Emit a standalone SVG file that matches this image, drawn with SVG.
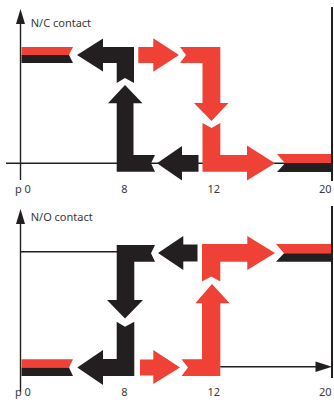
<svg xmlns="http://www.w3.org/2000/svg" width="334" height="402" viewBox="0 0 334 402">
<style>
.k{fill:#231f20}
.r{fill:#ef4136}
.ax{stroke:#231f20;stroke-width:1.4;fill:none}
.edge{stroke:#231f20;stroke-width:2;fill:none}
.t{font-family:"Noto Sans","Liberation Sans",sans-serif;font-size:11px;fill:#3a3a3a}
</style>
<rect width="334" height="402" fill="#ffffff"/>
<g id="nc-panel">
  <g id="nc-axes">
    <line class="ax" x1="20.5" y1="22" x2="20.5" y2="180"/>
    <polygon class="k" points="20.5,9 16,24 25,24"/>
    <line class="ax" x1="6" y1="163.3" x2="332" y2="163.3"/>
    <line class="edge" x1="332" y1="7" x2="332" y2="181"/>
    <text class="t" x="30.7" y="27">N/C contact</text>
    <text class="t" x="15" y="193">p 0</text>
    <text class="t" x="124.5" y="193" text-anchor="middle">8</text>
    <text class="t" x="213.7" y="193" text-anchor="middle">12</text>
    <text class="t" x="319" y="193">20</text>
  </g>
  <g id="nc-bar-left">
    <polygon class="r" points="21.5,47 73,47 69,55 21.5,55"/>
    <polygon class="k" points="21.5,55 69,55 73,63 21.5,63"/>
  </g>
  <g id="nc-bar-right">
    <polygon class="r" points="277,154 331,154 331,163.3 285,163.3"/>
    <polygon class="k" points="285,163.3 331,163.3 331,172 277,172"/>
  </g>
  <g id="nc-black-path">
    <polygon class="k" points="157,163.3 182,146 182,155 198.5,155 198.5,171.7 182,171.7 182,180.5"/>
    <polygon class="k" points="125,85 142.5,103.3 133.5,103.3 133.5,155 155,155 151,163.3 155,171.7 116.7,171.7 116.7,103.3 108,103.3"/>
    <polygon class="k" points="77,55 103,38.5 103,47 134,47 134,83 125,78 116.7,83 116.7,63 103,63 103,71.5"/>
  </g>
  <g id="nc-red-path">
    <polygon class="r" points="138.3,47 153.3,47 153.3,38.3 179,55 153.3,71.7 153.3,63 138.3,63"/>
    <polygon class="r" points="180,47 220.3,47 220.3,103 228.5,103 211.5,121 194,103 202.5,103 202.5,63 180,63 186,55"/>
    <polygon class="r" points="202.5,123 211.5,128 220.3,123 220.3,155 247,155 247,145.5 275,163.3 247,180.5 247,171.7 202.5,171.7"/>
  </g>
</g>
<g id="no-panel">
  <g id="no-axes">
    <line class="ax" x1="20.5" y1="222" x2="20.5" y2="391.7"/>
    <polygon class="k" points="20.5,209 16,224 25,224"/>
    <line class="ax" x1="20.5" y1="251.7" x2="117" y2="251.7"/>
    <line class="edge" x1="332" y1="206" x2="332" y2="378"/>
    <text class="t" x="30.7" y="220.5">N/O contact</text>
    <text class="t" x="15" y="396">p 0</text>
    <text class="t" x="124.5" y="396" text-anchor="middle">8</text>
    <text class="t" x="213.7" y="396" text-anchor="middle">12</text>
    <text class="t" x="319" y="396">20</text>
  </g>
  <g id="no-bar-left">
    <polygon class="r" points="21.5,359.3 73,359.3 69,367.5 21.5,367.5"/>
    <polygon class="k" points="21.5,367.5 69,367.5 73,376 21.5,376"/>
  </g>
  <g id="no-bar-right">
    <polygon class="r" points="276,244 331,244 331,253.3 284,253.3"/>
    <polygon class="k" points="284,253.3 331,253.3 331,261.7 276,261.7"/>
  </g>
  <g id="no-black-path">
    <polygon class="k" points="158,253 183.3,236 183.3,244.5 197.5,244.5 197.5,261.5 183.3,261.5 183.3,270"/>
    <polygon class="k" points="116.7,245 155,245 151,253.3 155,261.7 134.3,261.7 134.3,300 143,300 125,318.5 107,300 116.7,300"/>
    <polygon class="k" points="116.7,321.7 125,326.7 134.3,321.7 134.3,376 103,376 103,385 77.3,367.5 103,350 103,359 116.7,359"/>
  </g>
  <g id="no-red-path">
    <polygon class="r" points="140,359.5 153.3,359.5 153.3,350 180,367.5 153.3,384 153.3,375.5 140,375.5"/>
    <polygon class="r" points="181.5,359.3 202,359.3 202,303.3 195.3,303.3 212,284 229.7,303.3 220.3,303.3 220.3,376 181.5,376 188,367.5"/>
    <polygon class="r" points="202,244 247.3,244 247.3,236 275,253 247.3,270 247.3,261.7 220.3,261.7 220.3,281.5 211.2,276.5 202,281.5"/>
  </g>
  <g id="no-connector">
    <line class="ax" x1="220.3" y1="366.7" x2="317" y2="366.7"/>
    <polygon class="k" points="332,366.7 315.5,361.5 315.5,372"/>
  </g>
</g>
</svg>
